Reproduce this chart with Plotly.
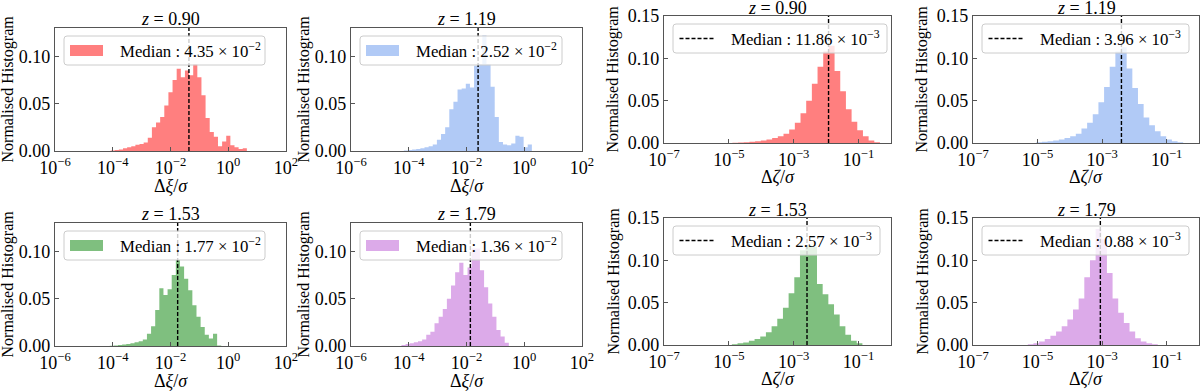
import plotly.graph_objects as go

W, H = 1200, 392
FONT = "Liberation Serif"

# ---------------- data ----------------
redshifts = ["0.90", "1.19", "1.53", "1.79"]
colors = ["rgba(255,0,0,0.5)", "rgba(100,149,237,0.5)", "rgba(0,128,0,0.5)", "rgba(186,85,211,0.5)"]

# Delta xi / sigma: log10 of first bin edge, bin width (dex), normalised counts
xi_first_edge = [-4.074, -4.169, -4.103, -4.252]
xi_bin_width = 0.143
xi_hist_z090 = [0.0005, 0.001, 0.0015, 0.003, 0.004, 0.005, 0.0065, 0.0075, 0.009, 0.014, 0.025,
                0.030, 0.036, 0.048, 0.062, 0.075, 0.087, 0.078, 0.085, 0.080, 0.092, 0.078, 0.059,
                0.035, 0.020, 0.015, 0.005, 0.010, 0.016, 0.006, 0.004, 0.002, 0.003]
xi_hist_z119 = [0.0004, 0.001, 0.0015, 0.002, 0.003, 0.004, 0.005, 0.007, 0.012, 0.018, 0.025,
                0.044, 0.052, 0.065, 0.066, 0.071, 0.067, 0.090, 0.092, 0.122, 0.092, 0.068, 0.036,
                0.0095, 0.007, 0.006, 0.008, 0.016, 0.015, 0.004, 0.007]
xi_hist_z153 = [0.0003, 0.0006, 0.001, 0.0015, 0.002, 0.003, 0.004, 0.005, 0.007, 0.013, 0.021,
                0.038, 0.061, 0.054, 0.060, 0.075, 0.091, 0.084, 0.071, 0.059, 0.043, 0.031, 0.020,
                0.012, 0.008, 0.013, 0.0005]
xi_hist_z179 = [0.001, 0.002, 0.003, 0.004, 0.005, 0.007, 0.012, 0.015, 0.024, 0.031, 0.039,
                0.050, 0.064, 0.078, 0.088, 0.075, 0.083, 0.103, 0.103, 0.080, 0.062, 0.045, 0.031,
                0.017, 0.010, 0.0035]
xi_median_label = ["4.35", "2.52", "1.77", "1.36"]
xi_median_exp = -2

# Delta zeta / sigma
zeta_first_edge = [-4.89, -5.04, -4.907, -5.302]
zeta_bin_width = 0.175
zeta_hist_z090 = [0.0004, 0.0007, 0.001, 0.0015, 0.002, 0.003, 0.004, 0.006, 0.008, 0.011, 0.016,
                  0.024, 0.035, 0.050, 0.070, 0.090, 0.108, 0.115, 0.085, 0.061, 0.040, 0.025,
                  0.015, 0.008, 0.003, 0.001]
zeta_hist_z119 = [0.001, 0.0015, 0.002, 0.003, 0.004, 0.006, 0.008, 0.011, 0.017, 0.024, 0.034,
                  0.048, 0.066, 0.090, 0.108, 0.113, 0.088, 0.065, 0.046, 0.030, 0.021, 0.014,
                  0.008, 0.004, 0.002, 0.001]
zeta_hist_z153 = [0.001, 0.002, 0.003, 0.005, 0.007, 0.010, 0.015, 0.022, 0.031, 0.044, 0.061,
                  0.080, 0.112, 0.118, 0.116, 0.072, 0.060, 0.048, 0.036, 0.022, 0.012, 0.005, 0.002]
zeta_hist_z179 = [0.001, 0.002, 0.004, 0.007, 0.011, 0.016, 0.022, 0.030, 0.042, 0.055, 0.080,
                  0.100, 0.137, 0.125, 0.085, 0.055, 0.038, 0.026, 0.016, 0.008, 0.004, 0.002, 0.001]
zeta_median_label = ["11.86", "3.96", "2.57", "0.88"]
zeta_median_exp = -3

xi_tickvals = [1e-6, 1e-4, 1e-2, 1e0, 1e2]
xi_ticktext = ["10<sup>−6</sup>", "10<sup>−4</sup>", "10<sup>−2</sup>", "10<sup>0</sup>", "10<sup>2</sup>"]
zeta_tickvals = [1e-7, 1e-5, 1e-3, 1e-1]
zeta_ticktext = ["10<sup>−7</sup>", "10<sup>−5</sup>", "10<sup>−3</sup>", "10<sup>−1</sup>"]

xi_hists = [xi_hist_z090, xi_hist_z119, xi_hist_z153, xi_hist_z179]
zeta_hists = [zeta_hist_z090, zeta_hist_z119, zeta_hist_z153, zeta_hist_z179]

# ---------------- layout (pixel boxes: left, right, top, bottom) ----------------
xi_boxes = [(55, 286, 28, 151), (351, 582, 28, 151), (55, 286, 223, 346), (351, 582, 223, 346)]
zeta_boxes = [(664, 891, 16, 143), (973, 1199, 16, 143), (664, 891, 218, 345), (973, 1199, 218, 345)]
xi_legend_w = [201, 202, 201, 202]
zeta_legend_w = [214, 207, 207, 207]


def X(px):
    return px / W


def Y(py):
    return 1 - py / H


def rounded_box(x0, y0, x1, y1, r=3):
    return (f"M {X(x0 + r)},{Y(y0)} L {X(x1 - r)},{Y(y0)} Q {X(x1)},{Y(y0)} {X(x1)},{Y(y0 + r)} "
            f"L {X(x1)},{Y(y1 - r)} Q {X(x1)},{Y(y1)} {X(x1 - r)},{Y(y1)} "
            f"L {X(x0 + r)},{Y(y1)} Q {X(x0)},{Y(y1)} {X(x0)},{Y(y1 - r)} "
            f"L {X(x0)},{Y(y0 + r)} Q {X(x0)},{Y(y0)} {X(x0 + r)},{Y(y0)} Z")


fig = go.Figure()
axis_font = dict(family=FONT, size=18, color="black")
frame = "#555555"

panels = []
for i in range(4):
    panels.append(dict(kind="xi", box=xi_boxes[i], hist=xi_hists[i], lo=xi_first_edge[i], w=xi_bin_width,
                       med=xi_median_label[i], exp=xi_median_exp, color=colors[i], z=redshifts[i],
                       lw=xi_legend_w[i]))
for i in range(4):
    panels.append(dict(kind="zeta", box=zeta_boxes[i], hist=zeta_hists[i], lo=zeta_first_edge[i],
                       w=zeta_bin_width, med=zeta_median_label[i], exp=zeta_median_exp, color=colors[i],
                       z=redshifts[i], lw=zeta_legend_w[i]))

shapes = []
annotations = []
for k, p in enumerate(panels):
    n = k + 1
    xa = "x" if n == 1 else f"x{n}"
    ya = "y" if n == 1 else f"y{n}"
    left, right, top, bottom = p["box"]
    is_xi = p["kind"] == "xi"
    ytop = 0.13 if is_xi else 0.15

    # histogram as stepped filled area on the log axis
    h = p["hist"]
    edges = [10 ** (p["lo"] + j * p["w"]) for j in range(len(h) + 1)]
    fig.add_trace(go.Scatter(
        x=edges, y=h + [h[-1]], mode="lines", line=dict(width=0, shape="hv"),
        fill="tozeroy", fillcolor=p["color"], xaxis=xa, yaxis=ya,
        showlegend=False, hoverinfo="skip",
    ))

    median = float(p["med"]) * 10 ** p["exp"]
    fig.add_trace(go.Scatter(
        x=[median, median], y=[0, ytop], mode="lines",
        line=dict(color="black", width=1.4, dash="4px,2px"),
        xaxis=xa, yaxis=ya, showlegend=False, hoverinfo="skip",
    ))

    fig.update_layout({
        f"xaxis{'' if n == 1 else n}": dict(
            domain=[X(left), X(right)], anchor=ya, type="log", automargin=False,
            range=[-6, 2] if is_xi else [-7, 0],
            tickvals=xi_tickvals if is_xi else zeta_tickvals,
            ticktext=xi_ticktext if is_xi else zeta_ticktext,
            showline=True, mirror=True, linecolor=frame, linewidth=1.2,
            ticks="inside", ticklen=4, tickcolor=frame, showgrid=False, zeroline=False,
            tickfont=axis_font,
        ),
        f"yaxis{'' if n == 1 else n}": dict(
            domain=[Y(bottom), Y(top)], anchor=xa, range=[0, ytop], automargin=False,
            tickvals=[0, 0.05, 0.10] if is_xi else [0, 0.05, 0.10, 0.15], tickformat=".2f",
            showline=True, mirror=True, linecolor=frame, linewidth=1.2,
            ticks="inside", ticklen=4, tickcolor=frame, showgrid=False, zeroline=False,
            tickfont=axis_font,
        ),
    })

    # title, axis labels
    annotations.append(dict(text=f"<i>z</i> = {p['z']}", x=X((left + right) / 2),
                            y=Y(top - (9 if is_xi else 8)),
                            xref="paper", yref="paper", xanchor="center", yanchor="middle",
                            showarrow=False, font=dict(family=FONT, size=18, color="black")))
    xlabel = "Δ<i>ξ</i>/<i>σ</i>" if is_xi else "Δ<i>ζ</i>/<i>σ</i>"
    annotations.append(dict(text=xlabel, x=X((left + right) / 2), y=Y(bottom + (35 if is_xi else 34)),
                            xref="paper", yref="paper", xanchor="center", yanchor="middle",
                            showarrow=False, font=dict(family=FONT, size=18, color="black")))
    annotations.append(dict(text="Normalised Histogram", x=X(left - (48 if is_xi else 51)),
                            y=Y((top + bottom) / 2), xref="paper", yref="paper", textangle=-90,
                            xanchor="center", yanchor="middle", showarrow=False,
                            font=dict(family=FONT, size=16, color="black")))

    # legend box
    bx0 = left + 9
    bx1 = bx0 + p["lw"]
    by0 = top + 8
    by1 = by0 + 29
    cy = (by0 + by1) / 2
    shapes.append(dict(type="path", path=rounded_box(bx0, by0, bx1, by1), xref="paper", yref="paper",
                       fillcolor="rgba(255,255,255,0.8)", line=dict(color="#cccccc", width=1),
                       layer="above"))
    if is_xi:
        shapes.append(dict(type="rect", x0=X(bx0 + 6), x1=X(bx0 + 39), y0=Y(cy - 5.5), y1=Y(cy + 5.5),
                           xref="paper", yref="paper", fillcolor=p["color"], line=dict(width=0),
                           layer="above"))
        tx = bx0 + 54
    else:
        shapes.append(dict(type="line", x0=X(bx0 + 6.5), x1=X(bx0 + 40.5), y0=Y(cy), y1=Y(cy),
                           xref="paper", yref="paper",
                           line=dict(color="black", width=1.4, dash="4px,2px"), layer="above"))
        tx = bx0 + 55.5
    annotations.append(dict(text=f"Median : {p['med']} × 10<sup>−{abs(p['exp'])}</sup>",
                            x=X(tx), y=Y(cy), xref="paper", yref="paper", xanchor="left",
                            yanchor="middle", showarrow=False,
                            font=dict(family=FONT, size=16.8, color="black")))

fig.update_layout(
    width=W, height=H, margin=dict(l=0, r=0, t=0, b=0),
    paper_bgcolor="white", plot_bgcolor="white",
    font=dict(family=FONT, color="black"),
    showlegend=False, shapes=shapes, annotations=annotations,
)

# the page body has a default margin; remove it so the figure fills the window
fig.write_html("out.html", config={"displayModeBar": False},
               post_script="document.body.style.margin = '0px';")
